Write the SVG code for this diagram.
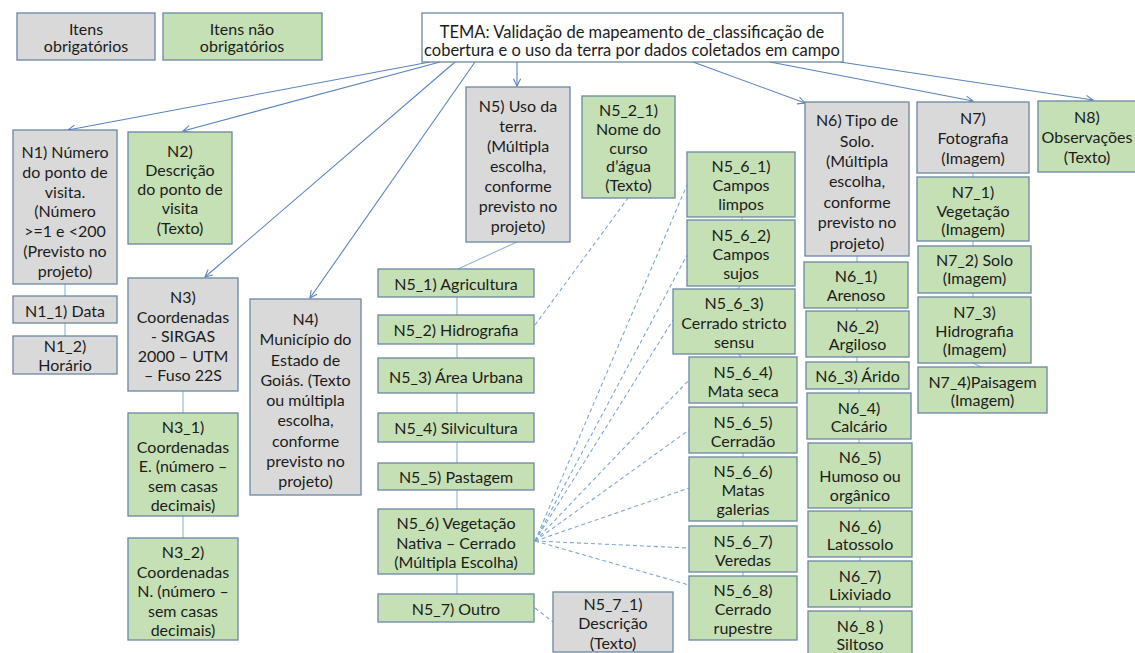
<svg xmlns="http://www.w3.org/2000/svg" width="1135" height="653" viewBox="0 0 1135 653">
<defs>
<style>
.g{fill:#d9d9d9;stroke:#6b87a3;stroke-width:1.3}
.v{fill:#c5e0b4;stroke:#6b87a3;stroke-width:1.3}
.w{fill:#ffffff;stroke:#6b87a3;stroke-width:1.3}
text{font-family:Lato,"Noto Sans","Liberation Sans",sans-serif;font-size:16px;fill:#1c1c1c;text-anchor:middle;dominant-baseline:central}
.s{font-size:16px}
.t{font-size:16.5px}
.a{stroke:#5b83c0;stroke-width:1.1;fill:none}
.l{stroke:#8fb3d9;stroke-width:1.1;fill:none}
.d{stroke:#7ea6d4;stroke-width:1.1;fill:none;stroke-dasharray:4 3}
</style>
<marker id="ah" viewBox="0 0 10 10" refX="9" refY="5" markerWidth="9" markerHeight="9" orient="auto" markerUnits="userSpaceOnUse">
<path d="M1,1 L9,5 L1,9" fill="none" stroke="#5b83c0" stroke-width="1.2"/>
</marker>
</defs>
<rect width="1135" height="653" fill="#ffffff"/>

<g id="connectors">
<line class="a" x1="430" y1="62" x2="68" y2="130" marker-end="url(#ah)"/>
<line class="a" x1="440" y1="62" x2="183" y2="131" marker-end="url(#ah)"/>
<line class="a" x1="455" y1="62" x2="205" y2="277" marker-end="url(#ah)"/>
<line class="a" x1="475" y1="62" x2="310" y2="298" marker-end="url(#ah)"/>
<line class="a" x1="517" y1="62" x2="517" y2="86" marker-end="url(#ah)"/>
<line class="a" x1="693" y1="62" x2="805" y2="103" marker-end="url(#ah)"/>
<line class="a" x1="770" y1="62" x2="973" y2="101" marker-end="url(#ah)"/>
<line class="a" x1="840" y1="62" x2="1093" y2="100" marker-end="url(#ah)"/>
<line class="l" x1="65" y1="284" x2="65" y2="296"/>
<line class="l" x1="65" y1="323" x2="65" y2="336"/>
<line class="l" x1="183" y1="391" x2="183" y2="413"/>
<line class="l" x1="183" y1="516" x2="183" y2="538"/>
<line class="l" x1="517" y1="242" x2="458" y2="269"/>
<line class="l" x1="457" y1="297" x2="457" y2="315"/>
<line class="l" x1="457" y1="344" x2="457" y2="358"/>
<line class="l" x1="457" y1="393" x2="457" y2="413"/>
<line class="l" x1="457" y1="442" x2="457" y2="463"/>
<line class="l" x1="457" y1="490" x2="457" y2="509"/>
<line class="l" x1="457" y1="574" x2="457" y2="594"/>
<line class="l" x1="742" y1="217" x2="742" y2="220"/>
<line class="l" x1="740" y1="286" x2="738" y2="289"/>
<line class="l" x1="738" y1="354" x2="742" y2="357"/>
<line class="l" x1="743" y1="403" x2="743" y2="407"/>
<line class="l" x1="743" y1="453" x2="743" y2="457"/>
<line class="l" x1="743" y1="521" x2="743" y2="526"/>
<line class="l" x1="743" y1="572" x2="743" y2="576"/>
<line class="l" x1="857" y1="256" x2="857" y2="262"/>
<line class="l" x1="857" y1="308" x2="857" y2="311"/>
<line class="l" x1="857" y1="357" x2="857" y2="362"/>
<line class="l" x1="859" y1="389" x2="859" y2="393"/>
<line class="l" x1="859" y1="439" x2="859" y2="443"/>
<line class="l" x1="860" y1="508" x2="860" y2="511"/>
<line class="l" x1="860" y1="557" x2="860" y2="561"/>
<line class="l" x1="860" y1="607" x2="860" y2="611"/>
<line class="l" x1="973" y1="173" x2="973" y2="177"/>
<line class="l" x1="973" y1="241" x2="973" y2="246"/>
<line class="l" x1="973" y1="293" x2="973" y2="297"/>
<line class="l" x1="973" y1="363" x2="981" y2="367"/>
<line class="d" x1="535" y1="325" x2="628" y2="198"/>
<line class="d" x1="535" y1="541" x2="687" y2="185"/>
<line class="d" x1="535" y1="541" x2="687" y2="255"/>
<line class="d" x1="535" y1="541" x2="673" y2="320"/>
<line class="d" x1="535" y1="541" x2="689" y2="380"/>
<line class="d" x1="535" y1="541" x2="689" y2="430"/>
<line class="d" x1="535" y1="541" x2="689" y2="488"/>
<line class="d" x1="535" y1="541" x2="689" y2="548"/>
<line class="d" x1="535" y1="541" x2="689" y2="585"/>
<line class="d" x1="535" y1="608" x2="553" y2="622"/>
</g>

<g id="leg1"><rect class="g" x="17" y="13" width="138" height="47"/><text class="s" x="86"><tspan x="86" y="28">Itens</tspan><tspan x="86" y="45">obrigatórios</tspan></text></g>
<g id="leg2"><rect class="v" x="163" y="13" width="159" height="47"/><text class="s" x="242"><tspan x="242" y="28">Itens não</tspan><tspan x="242" y="45">obrigatórios</tspan></text></g>
<g id="tema"><rect class="w" x="422" y="13" width="421" height="49"/><text class="t" x="632"><tspan x="632" y="32">TEMA: Validação de mapeamento de_classificação de</tspan><tspan x="632" y="50">cobertura e o uso da terra por dados coletados em campo</tspan></text></g>

<g id="n1"><rect class="g" x="13" y="130" width="104" height="154"/><text x="65"><tspan x="65" y="151">N1) Número</tspan><tspan x="65" y="171">do ponto de</tspan><tspan x="65" y="190.5">visita.</tspan><tspan x="65" y="210">(Número</tspan><tspan x="65" y="230">&gt;=1 e &lt;200</tspan><tspan x="65" y="250">(Previsto no</tspan><tspan x="65" y="270">projeto)</tspan></text></g>
<g id="n1_1"><rect class="g" x="13" y="296" width="104" height="27"/><text x="65" y="310">N1_1) Data</text></g>
<g id="n1_2"><rect class="g" x="13" y="336" width="104" height="38"/><text x="65"><tspan x="65" y="345">N1_2)</tspan><tspan x="65" y="364">Horário</tspan></text></g>
<g id="n2"><rect class="v" x="128" y="132" width="104" height="112"/><text x="180"><tspan x="180" y="150">N2)</tspan><tspan x="180" y="169">Descrição</tspan><tspan x="180" y="188">do ponto de</tspan><tspan x="180" y="207">visita</tspan><tspan x="180" y="227">(Texto)</tspan></text></g>
<g id="n3"><rect class="g" x="128" y="278" width="110" height="113"/><text x="183"><tspan x="183" y="296">N3)</tspan><tspan x="183" y="315.5">Coordenadas</tspan><tspan x="183" y="335">- SIRGAS</tspan><tspan x="183" y="354.5">2000 – UTM</tspan><tspan x="183" y="374">– Fuso 22S</tspan></text></g>
<g id="n3_1"><rect class="v" x="128" y="413" width="110" height="103"/><text x="183"><tspan x="183" y="426">N3_1)</tspan><tspan x="183" y="445.5">Coordenadas</tspan><tspan x="183" y="465">E. (número –</tspan><tspan x="183" y="484.5">sem casas</tspan><tspan x="183" y="504">decimais)</tspan></text></g>
<g id="n3_2"><rect class="v" x="128" y="538" width="110" height="102"/><text x="183"><tspan x="183" y="551">N3_2)</tspan><tspan x="183" y="570.5">Coordenadas</tspan><tspan x="183" y="590">N. (número –</tspan><tspan x="183" y="609.5">sem casas</tspan><tspan x="183" y="629">decimais)</tspan></text></g>
<g id="n4"><rect class="g" x="250" y="299" width="111" height="196"/><text x="305.5"><tspan x="305.5" y="318">N4)</tspan><tspan x="305.5" y="338">Município do</tspan><tspan x="305.5" y="358.5">Estado de</tspan><tspan x="305.5" y="379">Goiás. (Texto</tspan><tspan x="305.5" y="399">ou múltipla</tspan><tspan x="305.5" y="419">escolha,</tspan><tspan x="305.5" y="439.5">conforme</tspan><tspan x="305.5" y="460">previsto no</tspan><tspan x="305.5" y="480">projeto)</tspan></text></g>
<g id="n5"><rect class="g" x="466" y="87" width="104" height="155"/><text x="518"><tspan x="518" y="105">N5) Uso da</tspan><tspan x="518" y="125">terra.</tspan><tspan x="518" y="145">(Múltipla</tspan><tspan x="518" y="165">escolha,</tspan><tspan x="518" y="185">conforme</tspan><tspan x="518" y="205">previsto no</tspan><tspan x="518" y="225">projeto)</tspan></text></g>
<g id="n5_2_1"><rect class="v" x="582" y="96" width="93" height="102"/><text x="628.5"><tspan x="628.5" y="109">N5_2_1)</tspan><tspan x="628.5" y="127.5">Nome do</tspan><tspan x="628.5" y="146.5">curso</tspan><tspan x="628.5" y="165">d’água</tspan><tspan x="628.5" y="184">(Texto)</tspan></text></g>
<g id="n5_1"><rect class="v" x="378" y="269" width="156" height="28"/><text x="456" y="283">N5_1) Agricultura</text></g>
<g id="n5_2"><rect class="v" x="378" y="315" width="156" height="29"/><text x="456" y="329.5">N5_2) Hidrografia</text></g>
<g id="n5_3"><rect class="v" x="378" y="358" width="156" height="35"/><text x="456" y="376">N5_3) Área Urbana</text></g>
<g id="n5_4"><rect class="v" x="378" y="413" width="156" height="29"/><text x="456" y="427.5">N5_4) Silvicultura</text></g>
<g id="n5_5"><rect class="v" x="378" y="463" width="156" height="27"/><text x="456" y="476.5">N5_5) Pastagem</text></g>
<g id="n5_6"><rect class="v" x="378" y="509" width="156" height="65"/><text x="456"><tspan x="456" y="522">N5_6) Vegetação</tspan><tspan x="456" y="541.5">Nativa – Cerrado</tspan><tspan x="456" y="561">(Múltipla Escolha)</tspan></text></g>
<g id="n5_7"><rect class="v" x="378" y="594" width="156" height="28"/><text x="456" y="608">N5_7) Outro</text></g>
<g id="n5_7_1"><rect class="g" x="553" y="592" width="120" height="60"/><text x="613"><tspan x="613" y="603">N5_7_1)</tspan><tspan x="613" y="622">Descrição</tspan><tspan x="613" y="641.5">(Texto)</tspan></text></g>

<g id="n5_6_1"><rect class="v" x="687" y="152" width="108" height="65"/><text x="741"><tspan x="741" y="165">N5_6_1)</tspan><tspan x="741" y="184">Campos</tspan><tspan x="741" y="203">limpos</tspan></text></g>
<g id="n5_6_2"><rect class="v" x="687" y="220" width="108" height="66"/><text x="741"><tspan x="741" y="234">N5_6_2)</tspan><tspan x="741" y="253">Campos</tspan><tspan x="741" y="272">sujos</tspan></text></g>
<g id="n5_6_3"><rect class="v" x="673" y="289" width="122" height="65"/><text x="734"><tspan x="734" y="302">N5_6_3)</tspan><tspan x="734" y="321.5">Cerrado stricto</tspan><tspan x="734" y="341">sensu</tspan></text></g>
<g id="n5_6_4"><rect class="v" x="689" y="357" width="108" height="46"/><text x="743"><tspan x="743" y="371">N5_6_4)</tspan><tspan x="743" y="389.5">Mata seca</tspan></text></g>
<g id="n5_6_5"><rect class="v" x="689" y="407" width="108" height="46"/><text x="743"><tspan x="743" y="421">N5_6_5)</tspan><tspan x="743" y="439.5">Cerradão</tspan></text></g>
<g id="n5_6_6"><rect class="v" x="689" y="457" width="108" height="64"/><text x="743"><tspan x="743" y="470">N5_6_6)</tspan><tspan x="743" y="489">Matas</tspan><tspan x="743" y="508">galerias</tspan></text></g>
<g id="n5_6_7"><rect class="v" x="689" y="526" width="108" height="46"/><text x="743"><tspan x="743" y="540">N5_6_7)</tspan><tspan x="743" y="558.5">Veredas</tspan></text></g>
<g id="n5_6_8"><rect class="v" x="689" y="576" width="108" height="64"/><text x="743"><tspan x="743" y="589">N5_6_8)</tspan><tspan x="743" y="608">Cerrado</tspan><tspan x="743" y="627">rupestre</tspan></text></g>

<g id="n6"><rect class="g" x="805" y="102" width="104" height="154"/><text x="857"><tspan x="857" y="119">N6) Tipo de</tspan><tspan x="857" y="139.5">Solo.</tspan><tspan x="857" y="160">(Múltipla</tspan><tspan x="857" y="180">escolha,</tspan><tspan x="857" y="200.5">conforme</tspan><tspan x="857" y="221">previsto no</tspan><tspan x="857" y="241.5">projeto)</tspan></text></g>
<g id="n6_1"><rect class="v" x="804" y="262" width="104" height="46"/><text x="856"><tspan x="856" y="275">N6_1)</tspan><tspan x="856" y="293.5">Arenoso</tspan></text></g>
<g id="n6_2"><rect class="v" x="806" y="311" width="103" height="46"/><text x="857.5"><tspan x="857.5" y="324.5">N6_2)</tspan><tspan x="857.5" y="342.5">Argiloso</tspan></text></g>
<g id="n6_3"><rect class="v" x="806" y="362" width="103" height="27"/><text x="857.5" y="375.5">N6_3) Árido</text></g>
<g id="n6_4"><rect class="v" x="807" y="393" width="104" height="46"/><text x="859"><tspan x="859" y="406.5">N6_4)</tspan><tspan x="859" y="424.5">Calcário</tspan></text></g>
<g id="n6_5"><rect class="v" x="808" y="443" width="104" height="65"/><text x="860"><tspan x="860" y="456">N6_5)</tspan><tspan x="860" y="475">Humoso ou</tspan><tspan x="860" y="494">orgânico</tspan></text></g>
<g id="n6_6"><rect class="v" x="808" y="511" width="104" height="46"/><text x="860"><tspan x="860" y="524.5">N6_6)</tspan><tspan x="860" y="542.5">Latossolo</tspan></text></g>
<g id="n6_7"><rect class="v" x="808" y="561" width="104" height="46"/><text x="860"><tspan x="860" y="574.5">N6_7)</tspan><tspan x="860" y="592.5">Lixiviado</tspan></text></g>
<g id="n6_8"><rect class="v" x="808" y="611" width="104" height="46"/><text x="860"><tspan x="860" y="625">N6_8 )</tspan><tspan x="860" y="643">Siltoso</tspan></text></g>

<g id="n7"><rect class="g" x="917" y="102" width="112" height="71"/><text x="973"><tspan x="973" y="117">N7)</tspan><tspan x="973" y="137">Fotografia</tspan><tspan x="973" y="157">(Imagem)</tspan></text></g>
<g id="n7_1"><rect class="v" x="917" y="177" width="112" height="64"/><text x="973"><tspan x="973" y="191">N7_1)</tspan><tspan x="973" y="209.5">Vegetação</tspan><tspan x="973" y="228">(Imagem)</tspan></text></g>
<g id="n7_2"><rect class="v" x="918" y="246" width="113" height="47"/><text x="974.5"><tspan x="974.5" y="259">N7_2) Solo</tspan><tspan x="974.5" y="277">(Imagem)</tspan></text></g>
<g id="n7_3"><rect class="v" x="918" y="297" width="113" height="66"/><text x="974.5"><tspan x="974.5" y="311">N7_3)</tspan><tspan x="974.5" y="329.5">Hidrografia</tspan><tspan x="974.5" y="348">(Imagem)</tspan></text></g>
<g id="n7_4"><rect class="v" x="918" y="367" width="129" height="46"/><text x="982.5"><tspan x="982.5" y="381">N7_4)Paisagem</tspan><tspan x="982.5" y="398.5">(Imagem)</tspan></text></g>
<g id="n8"><rect class="v" x="1038" y="101" width="102" height="71"/><text x="1087"><tspan x="1087" y="116">N8)</tspan><tspan x="1087" y="136">Observações</tspan><tspan x="1087" y="156">(Texto)</tspan></text></g>
</svg>
